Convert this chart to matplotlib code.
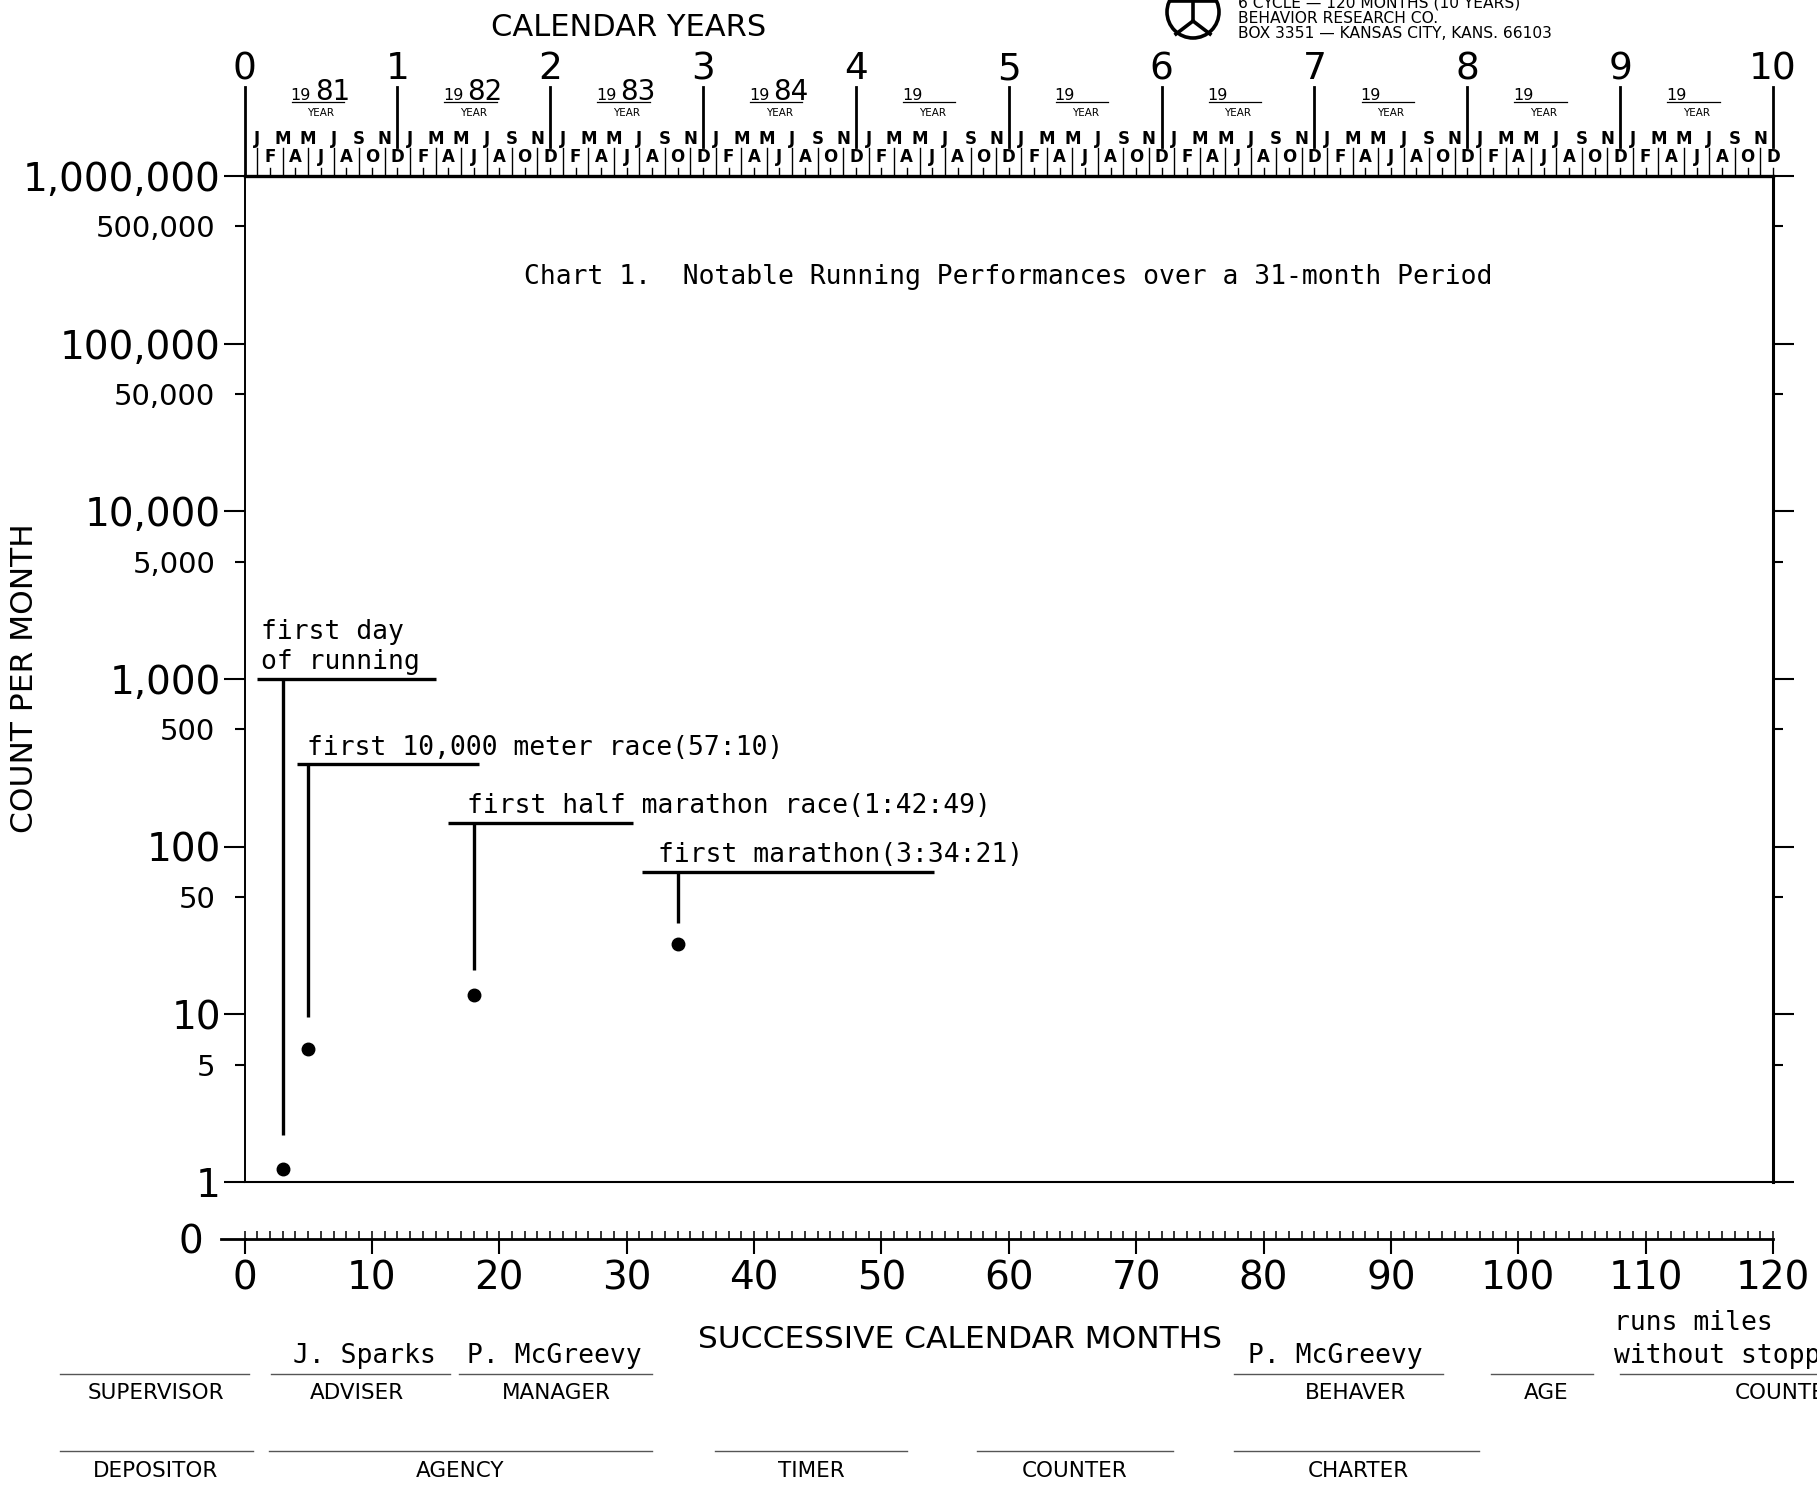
import matplotlib
matplotlib.use("Agg")
import matplotlib.pyplot as plt
from matplotlib.lines import Line2D
from matplotlib.patches import Ellipse
from matplotlib.ticker import FixedLocator, FixedFormatter

# ---- data -------------------------------------------------------------
event_months = [3, 5, 18, 34]
event_values = [1.2, 6.2, 13.1, 26.2]
event_labels = ["first day\nof running",
                "first 10,000 meter race(57:10)",
                "first half marathon race(1:42:49)",
                "first marathon(3:34:21)"]
# bracket of each note: bar height, bar start / end (months), stem bottom
bar_values = [1000, 310, 139, 71]
bar_starts = [1.0, 4.1, 16.0, 31.2]
bar_ends = [15.0, 18.4, 30.5, 54.1]
stem_ends = [1.9, 9.7, 18.3, 35]
text_months = [1.3, 4.9, 17.5, 32.5]

count_ticks = [1, 10, 100, 1000, 10000, 100000, 1000000]
count_labels = ["1", "10", "100", "1,000", "10,000", "100,000", "1,000,000"]
half_ticks = [5, 50, 500, 5000, 50000, 500000]
half_labels = ["5", "50", "500", "5,000", "50,000", "500,000"]
month_ticks = list(range(0, 121, 10))
years = list(range(0, 11))
year_suffix = ["81", "82", "83", "84", "", "", "", "", "", ""]
month_letters = "JFMAMJJASOND"

chart_title = "Chart 1.  Notable Running Performances over a 31-month Period"

row1_labels = ["SUPERVISOR", "ADVISER", "MANAGER", "BEHAVER", "AGE", "COUNTED"]
row1_values = ["", "J. Sparks", "P. McGreevy", "P. McGreevy", "",
               "runs miles\nwithout stopping"]
row2_labels = ["DEPOSITOR", "AGENCY", "TIMER", "COUNTER", "CHARTER"]

header_lines = ["6 CYCLE \u2014 120 MONTHS (10 YEARS)",
                "BEHAVIOR RESEARCH CO.",
                "BOX 3351 \u2014 KANSAS CITY, KANS. 66103"]

# ---- layout (pixels of the 1817x1487 sheet) ---------------------------
W, H = 1817, 1487
XL, XR = 244.5, 1773
YTOP, Y1, Y0 = 176, 1182, 1239

MONO = "DejaVu Sans Mono"
SANS = "DejaVu Sans"


def fx(x):
    return x / W


def fy(y):
    return 1 - y / H


def ay(y):
    # pixel row -> axes fraction of the main axes
    return (Y1 - y) / (Y1 - YTOP)


fig = plt.figure(figsize=(W / 100, H / 100), dpi=100)
fig.patch.set_facecolor("white")

ax = fig.add_axes([fx(XL), fy(Y1), (XR - XL) / W, (Y1 - YTOP) / H])
ax.set_yscale("log")
ax.set_xlim(0, 120)
ax.set_ylim(1, 1e6)
ax.set_xticks([])
ax.spines["left"].set_linewidth(1.4)
ax.spines["right"].set_linewidth(2.2)
ax.spines["top"].set_linewidth(2.4)
ax.spines["bottom"].set_linewidth(1.5)

ax.yaxis.set_major_locator(FixedLocator(count_ticks))
ax.yaxis.set_major_formatter(FixedFormatter(count_labels))
ax.yaxis.set_minor_locator(FixedLocator(half_ticks))
ax.yaxis.set_minor_formatter(FixedFormatter(half_labels))
ax.tick_params(axis="y", which="major", length=15, width=1.5,
               labelsize=28, pad=2, right=True)
ax.tick_params(axis="y", which="minor", length=7, width=1.5,
               labelsize=21, pad=14, right=True)

xt = ax.get_xaxis_transform()

# calendar year scale on top
for yr in years:
    m = 12 * yr
    top_end = 1.0 if yr == 0 else ay(147)
    ax.plot([m, m], [ay(87), top_end], transform=xt, clip_on=False,
            color="black", lw=2.0)
    ax.text(m, ay(69), str(yr), transform=xt, ha="center", va="center",
            fontsize=27)

for k in range(1, 121):
    tip = ay(148) if k % 2 else ay(168)
    ax.plot([k, k], [1.0, tip], transform=xt, clip_on=False,
            color="black", lw=1.0)
    row = ay(138.5) if k % 2 else ay(157)
    ax.text(k, row, month_letters[(k - 1) % 12], transform=xt,
            ha="center", va="center", fontsize=12, fontweight="bold")

for yr in years[:-1]:
    base = 12 * yr
    ax.text(base + 4.4, ay(99.5), "19", transform=xt, ha="center",
            va="baseline", fontsize=11.5)
    if year_suffix[yr]:
        ax.text(base + 6.9, ay(99.5), year_suffix[yr], transform=xt,
                ha="center", va="baseline", fontsize=20)
    ax.plot([base + 3.7, base + 7.8], [ay(102), ay(102)], transform=xt,
            clip_on=False, color="black", lw=0.9)
    ax.text(base + 6.0, ay(112.5), "YEAR", transform=xt, ha="center",
            va="center", fontsize=7.5)

fig.text(fx(629), fy(28), "CALENDAR YEARS", ha="center", va="center",
         fontsize=22, family=SANS)

# publisher header with logo
logo_x, logo_y, logo_r = 1193, 12, 26
fig.add_artist(Ellipse((fx(logo_x), fy(logo_y)), 2 * logo_r / W,
                       2 * logo_r / H, fill=False, lw=2.6, color="black",
                       transform=fig.transFigure))
for xs, ys in [([1170, 1216], [1, 1]),
               ([1193, 1193], [-12, 21]),
               ([1193, 1176], [21, 34]),
               ([1193, 1210], [21, 34])]:
    fig.add_artist(Line2D([fx(v) for v in xs], [fy(v) for v in ys],
                          transform=fig.transFigure, color="black", lw=2.6))
for i, line in enumerate(header_lines):
    fig.text(fx(1238), fy(3 + 15.5 * i), line, ha="left", va="center",
             fontsize=11.2)

# chart title
ax.text((524 - XL) / (XR - XL), ay(277), chart_title, transform=ax.transAxes,
        ha="left", va="center", fontsize=19, family=MONO)

# events with bracket notes
for m, v, lab, bv, b0, b1, se, tm in zip(event_months, event_values,
                                          event_labels, bar_values,
                                          bar_starts, bar_ends, stem_ends,
                                          text_months):
    ax.plot([b0, b1], [bv, bv], color="black", lw=2.4,
            solid_capstyle="butt")
    ax.plot([m, m], [bv, se], color="black", lw=2.4, solid_capstyle="butt")
    lines = lab.split("\n")
    for i, txt in enumerate(reversed(lines)):
        ax.annotate(txt, xy=(tm, bv), xytext=(0, 7 + 21.6 * i),
                    textcoords="offset points", ha="left", va="baseline",
                    fontsize=19, family=MONO)
ax.plot(event_months, event_values, "o", color="black", ms=9, clip_on=False)

# zero line with successive-month scale
zax = fig.add_axes([fx(XL), fy(Y0), (XR - XL) / W, 0.0001])
zax.patch.set_visible(False)
zax.set_xlim(0, 120)
zax.set_yticks([])
for side in ["top", "left", "right"]:
    zax.spines[side].set_visible(False)
zax.spines["bottom"].set_linewidth(2.0)
zax.xaxis.set_major_locator(FixedLocator(month_ticks))
zax.xaxis.set_minor_locator(FixedLocator(list(range(121))))
zax.xaxis.remove_overlapping_locs = False
zax.tick_params(axis="x", which="major", direction="out", length=11,
                width=1.5, labelsize=28, pad=4)
zax.tick_params(axis="x", which="minor", direction="in", length=6, width=1.1)
fig.add_artist(Line2D([fx(221), fx(XL)], [fy(Y0), fy(Y0)],
                      transform=fig.transFigure, color="black", lw=2.0))
fig.text(fx(203), fy(Y0 + 3), "0", ha="right", va="center", fontsize=28)

fig.text(fx(960), fy(1340), "SUCCESSIVE CALENDAR MONTHS", ha="center",
         va="center", fontsize=22.5, family=SANS)
fig.text(fx(25), fy(678), "COUNT PER MONTH", rotation=90, ha="center",
         va="center", fontsize=22.5)

# form fields under the chart
row1_lines = [(60, 249), (271, 450), (459, 652), (1234, 1443), (1491, 1593),
              (1620, 1817)]
row1_label_x = [156, 357, 556, 1356, 1546, 1735]
row1_value_x = [0, 293, 467, 1248, 0, 1614]
for (a, b), lx, vx, lab, val in zip(row1_lines, row1_label_x, row1_value_x,
                                    row1_labels, row1_values):
    fig.add_artist(Line2D([fx(a), fx(b)], [fy(1374), fy(1374)],
                          transform=fig.transFigure, color="#555555", lw=1.0))
    ha = "left" if lab == "COUNTED" else "center"
    fig.text(fx(lx), fy(1393), lab, ha=ha, va="center", fontsize=15.5,
             family=SANS)
    if val:
        lines = val.split("\n")
        for i, txt in enumerate(reversed(lines)):
            fig.text(fx(vx), fy(1363 - 33 * i), txt, ha="left",
                     va="baseline", fontsize=19, family=MONO)

row2_lines = [(60, 253), (269, 652), (715, 907), (977, 1173), (1234, 1479)]
row2_label_x = [156, 460, 811, 1075, 1358]
for (a, b), lx, lab in zip(row2_lines, row2_label_x, row2_labels):
    fig.add_artist(Line2D([fx(a), fx(b)], [fy(1451), fy(1451)],
                          transform=fig.transFigure, color="#555555", lw=1.0))
    fig.text(fx(lx), fy(1471), lab, ha="center", va="center", fontsize=15.5,
             family=SANS)

fig.savefig("out.png", dpi=100)
plt.close(fig)
